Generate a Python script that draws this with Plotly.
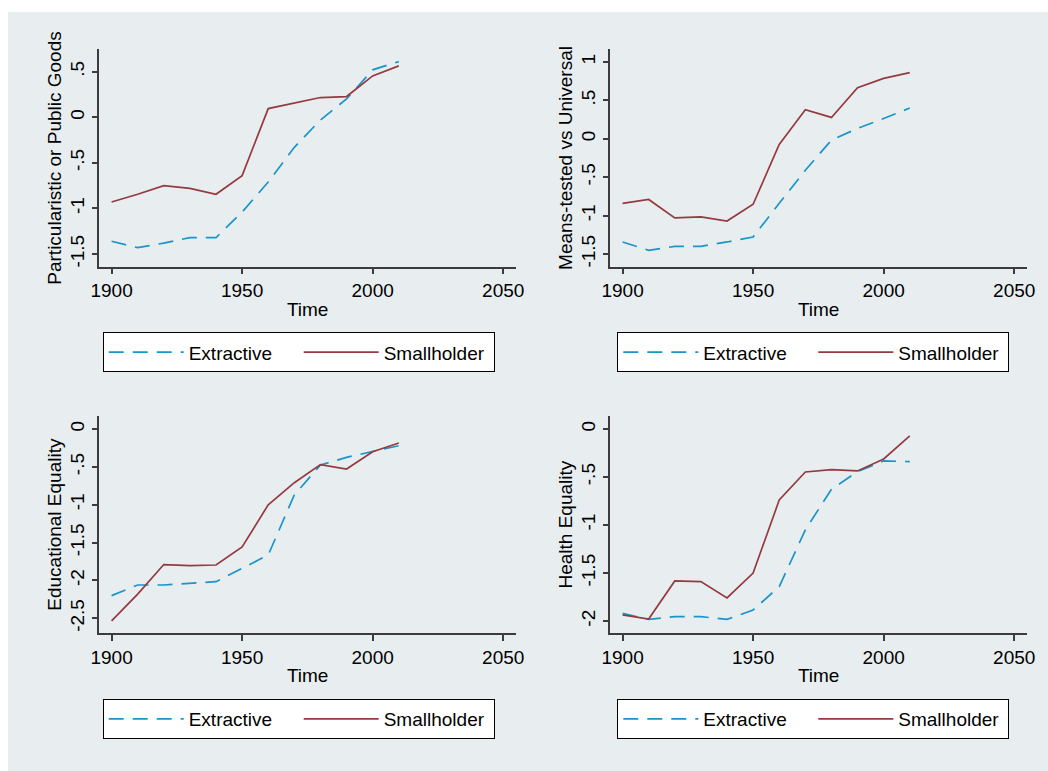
import plotly.graph_objects as go

W, H = 1048, 771

years = [1900, 1910, 1920, 1930, 1940, 1950, 1960, 1970, 1980, 1990, 2000, 2010]

# Panel 1: Particularistic or Public Goods
p1_extractive = [-1.36, -1.43, -1.38, -1.32, -1.32, -1.04, -0.71, -0.33, -0.03, 0.20, 0.52, 0.61]
p1_smallholder = [-0.93, -0.845, -0.75, -0.78, -0.845, -0.64, 0.095, 0.157, 0.216, 0.227, 0.453, 0.563]
# Panel 2: Means-tested vs Universal
p2_extractive = [-1.343, -1.452, -1.40, -1.40, -1.343, -1.278, -0.84, -0.41, -0.017, 0.135, 0.265, 0.40]
p2_smallholder = [-0.84, -0.79, -1.03, -1.017, -1.07, -0.852, -0.074, 0.378, 0.278, 0.665, 0.787, 0.861]
# Panel 3: Educational Equality
p3_extractive = [-2.20, -2.06, -2.06, -2.04, -2.016, -1.84, -1.664, -0.87, -0.475, -0.374, -0.30, -0.22]
p3_smallholder = [-2.535, -2.18, -1.79, -1.805, -1.796, -1.558, -1.0, -0.709, -0.47, -0.528, -0.30, -0.185]
# Panel 4: Health Equality
p4_extractive = [-1.92, -1.983, -1.955, -1.955, -1.983, -1.885, -1.642, -1.052, -0.628, -0.444, -0.333, -0.34]
p4_smallholder = [-1.937, -1.979, -1.583, -1.59, -1.76, -1.50, -0.74, -0.448, -0.424, -0.4375, -0.3125, -0.073]

y_titles = ["Particularistic or Public Goods", "Means-tested vs Universal",
            "Educational Equality", "Health Equality"]
y_tickvals = [
    [-1.5, -1, -0.5, 0, 0.5],
    [-1.5, -1, -0.5, 0, 0.5, 1],
    [-2.5, -2, -1.5, -1, -0.5, 0],
    [-2, -1.5, -1, -0.5, 0],
]
y_ticktext = [
    ["-1.5", "-1", "-.5", "0", ".5"],
    ["-1.5", "-1", "-.5", "0", ".5", "1"],
    ["-2.5", "-2", "-1.5", "-1", "-.5", "0"],
    ["-2", "-1.5", "-1", "-.5", "0"],
]
y_ranges = [[-1.639, 0.745], [-1.665, 1.165], [-2.698, 0.172], [-2.128, 0.135]]
x_tickvals = [1900, 1950, 2000, 2050]
x_range = [1895.3, 2054.9]
x_title = "Time"
series_names = ["Extractive", "Smallholder"]

extractive = [p1_extractive, p2_extractive, p3_extractive, p4_extractive]
smallholder = [p1_smallholder, p2_smallholder, p3_smallholder, p4_smallholder]

BLUE = "#1A94C9"
RED = "#943A40"
BG = "#E8EEF0"
GRID = "#E8EEF0"
AXC = "#3C3C3C"
FONT = "Liberation Sans, Arial, sans-serif"
FS = 19

# pixel boxes of plot regions: (left, right, top, bottom)
boxes = [
    (99.3, 516.0, 49.3, 266.7),
    (610.3, 1027.0, 49.3, 266.7),
    (99.3, 516.0, 416.0, 633.3),
    (610.3, 1027.0, 416.0, 633.3),
]
legend_pos = [(102.7, 332.3), (617.3, 332.3), (102.7, 699.0), (617.3, 699.0)]

fig = go.Figure()
layout = dict(
    width=W, height=H,
    margin=dict(l=0, r=0, t=0, b=0, autoexpand=False),
    paper_bgcolor="white",
    plot_bgcolor="white",
    font=dict(family=FONT, size=FS, color="black"),
    shapes=[dict(type="rect", xref="paper", yref="paper",
                 x0=8 / W, x1=1, y0=0, y1=1 - 12 / H,
                 fillcolor=BG, line=dict(width=0), layer="below")],
)

for i in range(4):
    n = i + 1
    xa = "x" if n == 1 else f"x{n}"
    ya = "y" if n == 1 else f"y{n}"
    lg = "legend" if n == 1 else f"legend{n}"
    l, r, t, b = boxes[i]
    fig.add_trace(go.Scatter(
        x=years, y=extractive[i], mode="lines", name=series_names[0],
        line=dict(color=BLUE, width=1.7, dash="15px,9px"),
        xaxis=xa, yaxis=ya, legend=lg, showlegend=True))
    fig.add_trace(go.Scatter(
        x=years, y=smallholder[i], mode="lines", name=series_names[1],
        line=dict(color=RED, width=1.7),
        xaxis=xa, yaxis=ya, legend=lg, showlegend=True))

    layout["xaxis" if n == 1 else f"xaxis{n}"] = dict(
        domain=[l / W, r / W], anchor=ya, range=x_range,
        tickvals=x_tickvals, ticks="outside", ticklen=6, tickwidth=1.5,
        tickcolor=AXC, showline=True, linecolor=AXC, linewidth=1.5,
        showgrid=False, zeroline=False,
        title=dict(text=x_title, standoff=2, font=dict(size=FS)),
        tickfont=dict(size=FS),
    )
    layout["yaxis" if n == 1 else f"yaxis{n}"] = dict(
        domain=[1 - b / H, 1 - t / H], anchor=xa, range=y_ranges[i],
        tickvals=y_tickvals[i], ticktext=y_ticktext[i], tickangle=-90,
        ticks="outside", ticklen=6, tickwidth=1.5, tickcolor=AXC,
        showline=True, linecolor=AXC, linewidth=1.5,
        showgrid=True, gridcolor=GRID, gridwidth=1.5, zeroline=False,
        title=dict(text=y_titles[i], standoff=0, font=dict(size=FS)),
        tickfont=dict(size=FS),
    )
    lx, ly = legend_pos[i]
    layout[lg] = dict(
        x=lx / W, y=1 - ly / H, xanchor="left", yanchor="top",
        xref="paper", yref="paper",
        orientation="h", bgcolor="white", bordercolor="black", borderwidth=1,
        font=dict(size=FS, family=FONT), entrywidth=105, entrywidthmode="pixels",
        itemwidth=75,
    )

fig.update_layout(**layout)
fig.write_html("out.html")
